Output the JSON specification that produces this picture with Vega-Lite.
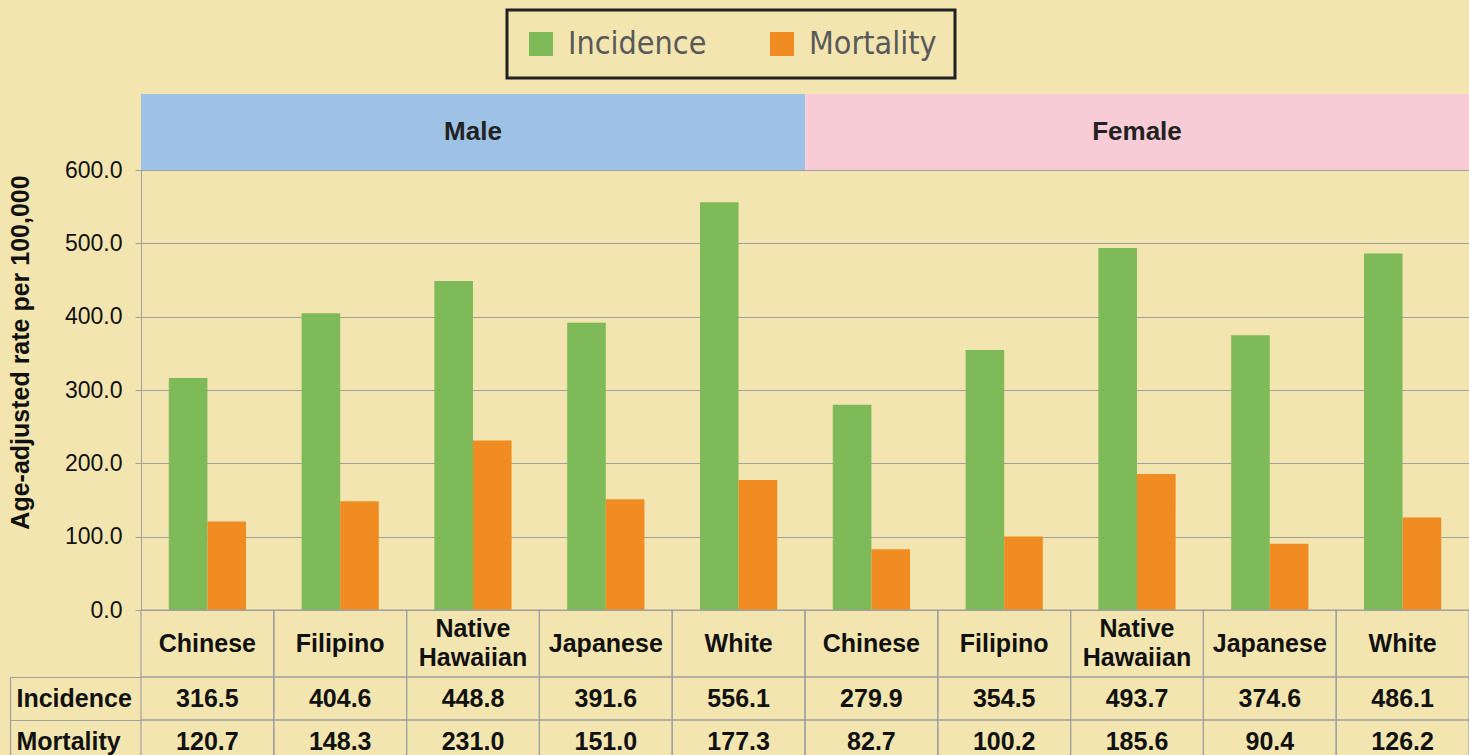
{
  "$schema": "https://vega.github.io/schema/vega-lite/v6.json",
  "background": "#F2E5B0",
  "autosize": {"type": "pad"},
  "padding": {"left": 7, "top": 8, "right": 0, "bottom": 0},
  "spacing": 0,
  "bounds": "flush",
  "config": {
    "view": {"stroke": null},
    "font": "Liberation Sans",
    "text": {"font": "Liberation Sans"}
  },
  "resolve": {"legend": {"color": "independent"}},
  "datasets": {
    "rates": [
      {"gender": "Male", "ethnicity": "Chinese", "measure": "Incidence", "value": 316.5},
      {"gender": "Male", "ethnicity": "Chinese", "measure": "Mortality", "value": 120.7},
      {"gender": "Male", "ethnicity": "Filipino", "measure": "Incidence", "value": 404.6},
      {"gender": "Male", "ethnicity": "Filipino", "measure": "Mortality", "value": 148.3},
      {"gender": "Male", "ethnicity": "Native Hawaiian", "measure": "Incidence", "value": 448.8},
      {"gender": "Male", "ethnicity": "Native Hawaiian", "measure": "Mortality", "value": 231.0},
      {"gender": "Male", "ethnicity": "Japanese", "measure": "Incidence", "value": 391.6},
      {"gender": "Male", "ethnicity": "Japanese", "measure": "Mortality", "value": 151.0},
      {"gender": "Male", "ethnicity": "White", "measure": "Incidence", "value": 556.1},
      {"gender": "Male", "ethnicity": "White", "measure": "Mortality", "value": 177.3},
      {"gender": "Female", "ethnicity": "Chinese", "measure": "Incidence", "value": 279.9},
      {"gender": "Female", "ethnicity": "Chinese", "measure": "Mortality", "value": 82.7},
      {"gender": "Female", "ethnicity": "Filipino", "measure": "Incidence", "value": 354.5},
      {"gender": "Female", "ethnicity": "Filipino", "measure": "Mortality", "value": 100.2},
      {"gender": "Female", "ethnicity": "Native Hawaiian", "measure": "Incidence", "value": 493.7},
      {"gender": "Female", "ethnicity": "Native Hawaiian", "measure": "Mortality", "value": 185.6},
      {"gender": "Female", "ethnicity": "Japanese", "measure": "Incidence", "value": 374.6},
      {"gender": "Female", "ethnicity": "Japanese", "measure": "Mortality", "value": 90.4},
      {"gender": "Female", "ethnicity": "White", "measure": "Incidence", "value": 486.1},
      {"gender": "Female", "ethnicity": "White", "measure": "Mortality", "value": 126.2}
    ],
    "genders": [{"gender": "Male"}, {"gender": "Female"}]
  },
  "vconcat": [
    {
      "width": 1328,
      "height": 76,
      "data": {"name": "genders"},
      "encoding": {
        "x": {"field": "gender", "type": "nominal", "scale": {"domain": ["Male", "Female"], "paddingInner": 0, "paddingOuter": 0}, "axis": null}
      },
      "layer": [
        {
          "mark": {"type": "bar"},
          "encoding": {
            "color": {"condition": {"test": "datum.gender === 'Male'", "value": "#9DC2E6"}, "value": "#F7CCD7"}
          }
        },
        {
          "mark": {"type": "text", "fontSize": 26, "fontWeight": "bold", "color": "#222222", "baseline": "middle"},
          "encoding": {"text": {"field": "gender", "type": "nominal"}}
        }
      ]
    },
    {
      "width": 1328,
      "height": 440,
      "data": {"name": "rates"},
      "transform": [{"calculate": "datum.gender + '|' + datum.ethnicity", "as": "key"}],
      "mark": {"type": "bar"},
      "encoding": {
        "x": {
          "field": "key", "type": "nominal",
          "scale": {"domain": ["Male|Chinese", "Male|Filipino", "Male|Native Hawaiian", "Male|Japanese", "Male|White", "Female|Chinese", "Female|Filipino", "Female|Native Hawaiian", "Female|Japanese", "Female|White"], "paddingInner": 0, "paddingOuter": 0},
          "axis": null
        },
        "xOffset": {"field": "measure", "type": "nominal", "scale": {"domain": ["Incidence", "Mortality"], "paddingInner": 0, "paddingOuter": 0.72}},
        "y": {
          "field": "value", "type": "quantitative",
          "scale": {"domain": [0, 600], "nice": false},
          "axis": {
            "values": [0, 100, 200, 300, 400, 500, 600],
            "format": ".1f",
            "grid": true, "gridColor": "#A0A0A0", "gridWidth": 1,
            "domainColor": "#A0A0A0", "tickColor": "#A0A0A0", "tickSize": 6,
            "labelFontSize": 23, "labelColor": "#111111", "labelPadding": 13, "labelFont": "Liberation Sans",
            "title": "Age-adjusted rate per 100,000",
            "titleFontSize": 25, "titleFontWeight": "bold", "titleColor": "#111111", "titleFont": "Liberation Sans",
            "titleX": -108, "titleY": 182
          }
        },
        "color": {
          "field": "measure", "type": "nominal",
          "scale": {"domain": ["Incidence", "Mortality"], "range": ["#7FBA59", "#F08C22"]},
          "legend": {
            "title": null, "orient": "none", "legendX": 366, "legendY": -160,
            "direction": "horizontal", "symbolType": "square", "symbolSize": 576, "symbolStrokeWidth": 0, "symbolOpacity": 1,
            "labelFontSize": 32, "labelColor": "#595959", "labelFont": "DejaVu Sans Condensed, DejaVu Sans",
            "labelLimit": 400,
            "labelExpr": "datum.value == 'Mortality' ? 'Mortality\u00a0\u00a0\u00a0\u00a0' : datum.label",
            "labelOffset": 11, "columnPadding": 59, "padding": 18,
            "strokeColor": "#222222", "fillColor": "#F2E5B0",
            "encode": {"legend": {"update": {"strokeWidth": {"value": 3}}}}
          }
        }
      }
    },
    {
      "width": 1328,
      "height": 67,
      "data": {"name": "rates"},
      "transform": [
        {"filter": "datum.measure === 'Incidence'"},
        {"calculate": "datum.gender + '|' + datum.ethnicity", "as": "key"}
      ],
      "encoding": {
        "x": {
          "field": "key", "type": "nominal",
          "scale": {"domain": ["Male|Chinese", "Male|Filipino", "Male|Native Hawaiian", "Male|Japanese", "Male|White", "Female|Chinese", "Female|Filipino", "Female|Native Hawaiian", "Female|Japanese", "Female|White"], "paddingInner": 0, "paddingOuter": 0},
          "axis": null
        }
      },
      "layer": [
        {"mark": {"type": "bar", "fill": "transparent", "stroke": "#A0A0A0", "strokeWidth": 1.2}},
        {
          "transform": [{"filter": "indexof(datum.ethnicity, ' ') < 0"}],
          "mark": {"type": "text", "fontSize": 25, "fontWeight": "bold", "color": "#111111", "baseline": "middle"},
          "encoding": {"text": {"field": "ethnicity", "type": "nominal"}}
        },
        {
          "transform": [{"filter": "indexof(datum.ethnicity, ' ') >= 0"}],
          "mark": {"type": "text", "fontSize": 25, "fontWeight": "bold", "color": "#111111", "baseline": "middle", "lineBreak": " ", "lineHeight": 29, "dy": -14.5},
          "encoding": {"text": {"field": "ethnicity", "type": "nominal"}}
        }
      ]
    },
    {
      "width": 1328,
      "height": 86,
      "data": {"name": "rates"},
      "transform": [{"calculate": "datum.gender + '|' + datum.ethnicity", "as": "key"}],
      "encoding": {
        "x": {
          "field": "key", "type": "nominal",
          "scale": {"domain": ["Male|Chinese", "Male|Filipino", "Male|Native Hawaiian", "Male|Japanese", "Male|White", "Female|Chinese", "Female|Filipino", "Female|Native Hawaiian", "Female|Japanese", "Female|White"], "paddingInner": 0, "paddingOuter": 0},
          "axis": null
        }
      },
      "resolve": {"axis": {"y": "independent"}},
      "layer": [
        {
          "mark": {"type": "rect", "fill": "transparent", "stroke": "#A0A0A0", "strokeWidth": 1.2},
          "encoding": {
            "y": {
              "field": "measure", "type": "nominal",
              "scale": {"domain": ["Incidence", "Mortality"], "paddingInner": 0, "paddingOuter": 0},
              "axis": {
                "orient": "left", "offset": 131, "title": null, "labels": false, "ticks": false, "grid": false,
                "domain": true, "domainColor": "#A0A0A0", "domainWidth": 1.2
              }
            }
          }
        },
        {
          "mark": {"type": "text", "fontSize": 25, "fontWeight": "bold", "color": "#111111", "baseline": "middle"},
          "encoding": {
            "y": {
              "field": "measure", "type": "nominal",
              "scale": {"domain": ["Incidence", "Mortality"], "paddingInner": 0, "paddingOuter": 0},
              "axis": {
                "orient": "left", "title": null, "domain": false, "grid": false,
                "ticks": true, "tickSize": 131, "tickColor": "#A0A0A0", "tickWidth": 1.2, "tickBand": "extent",
                "labelAlign": "left", "labelPadding": -6, "labelBaseline": "middle",
                "labelFontSize": 25, "labelFontWeight": "bold", "labelColor": "#111111", "labelFont": "Liberation Sans"
              }
            },
            "text": {"field": "value", "type": "quantitative", "format": ".1f"}
          }
        }
      ]
    }
  ]
}
